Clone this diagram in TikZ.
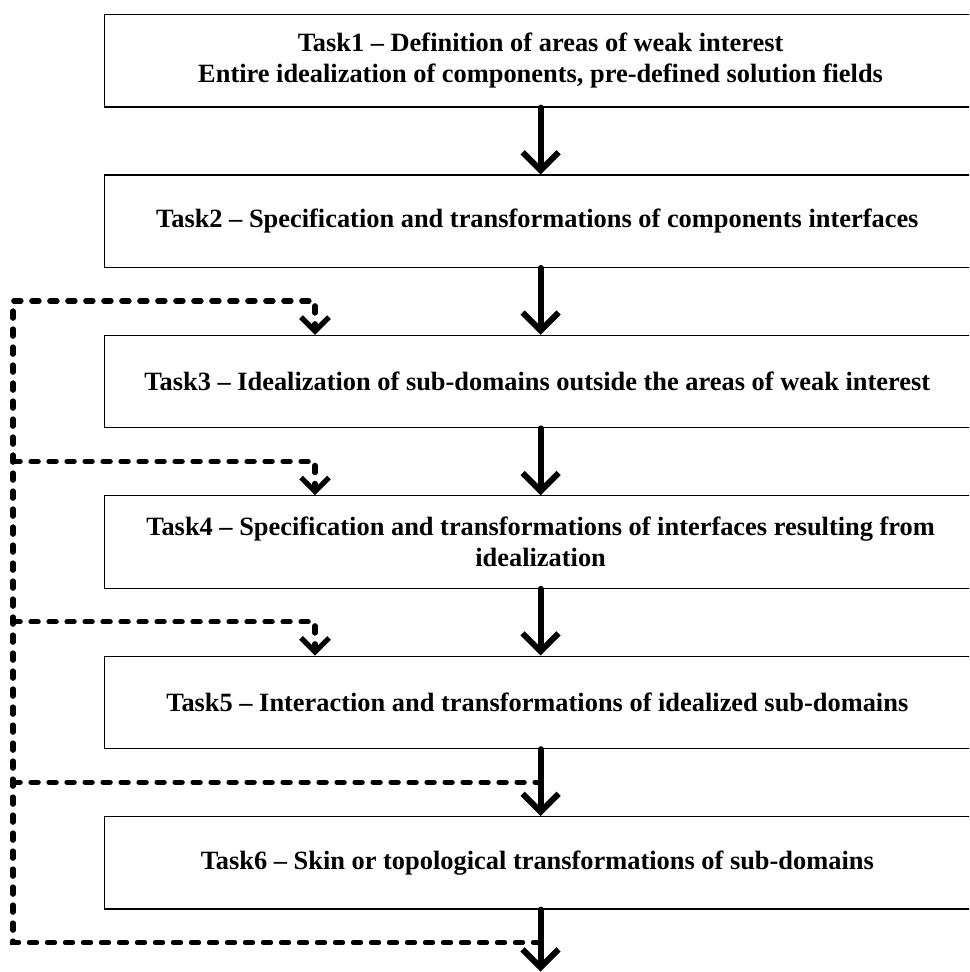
\documentclass[tikz,border=0pt]{standalone}
\usepackage{fontspec}
\setmainfont{Liberation Serif}
\usepackage{tikz}
\usetikzlibrary{arrows.meta,positioning}

\begin{document}
\begin{tikzpicture}[
    node distance=33.4pt,
    task/.style={
        draw,
        line width=0.6pt,
        align=center,
        minimum width=436pt,
        minimum height=46.2pt,
        inner sep=0pt,
        font=\fontsize{13.2}{15.5}\selectfont\bfseries
    },
    flow/.style={
        -{Straight Barb[length=9pt,width=18pt]},
        line width=3pt,
        line cap=round
    },
    feedback/.style={
        line width=2.6pt,
        line cap=round,
        dash pattern=on 3.6pt off 5.4pt
    },
    feedin/.style={
        feedback,
        -{Straight Barb[length=7pt,width=14pt]}
    }
]

\clip (0,0) rectangle (484.5pt,-486pt);
\useasboundingbox (0,0) rectangle (484.5pt,-486pt);

%---------------------------------------------------------------------
% Tasks
%---------------------------------------------------------------------

\node[task, anchor=north west] (s1) at (52pt,-7pt) {
    Task1 -- Definition of areas of weak interest\\
    Entire idealization of components, pre-defined solution fields
};

\node[task, below=of s1] (s2) {
    Task2 -- Specification and transformations of components interfaces
};

\node[task, below=of s2] (s3) {
    Task3 -- Idealization of sub-domains outside the areas of weak interest
};

\node[task, below=of s3] (s4) {
    Task4 -- Specification and transformations of interfaces resulting from\\
    idealization
};

\node[task, below=of s4] (s5) {
    Task5 -- Interaction and transformations of idealized sub-domains
};

\node[task, below=of s5] (s6) {
    Task6 -- Skin or topological transformations of sub-domains
};

\coordinate[below=31pt of s6.south] (out);

%---------------------------------------------------------------------
% Main flow
%---------------------------------------------------------------------

\draw[flow] (s1) -- (s2);
\draw[flow] (s2) -- (s3);
\draw[flow] (s3) -- (s4);
\draw[flow] (s4) -- (s5);
\draw[flow] (s5) -- (s6);
\draw[flow] (s6) -- (out);

%---------------------------------------------------------------------
% Feedback loop
%---------------------------------------------------------------------

\coordinate (rail) at (6.5pt,0);

\coordinate[below=16.5pt of s2.south] (m2);
\coordinate[below=16.5pt of s3.south] (m3);
\coordinate[below=16.5pt of s4.south] (m4);
\coordinate[below=16.5pt of s5.south] (m5);
\coordinate[below=16.5pt of s6.south] (m6);

\coordinate (in3) at ([xshift=105.5pt]s3.north west);
\coordinate (in4) at ([xshift=105.5pt]s4.north west);
\coordinate (in5) at ([xshift=105.5pt]s5.north west);

\draw[feedin] (m6) -- (m6 -| rail) -- (m2 -| rail) -- (m2 -| in3) -- (in3);
\draw[feedin] (m3 -| rail) -- (m3 -| in4) -- (in4);
\draw[feedin] (m4 -| rail) -- (m4 -| in5) -- (in5);
\draw[feedback] (m5 -| rail) -- (m5);

\end{tikzpicture}
\end{document}
